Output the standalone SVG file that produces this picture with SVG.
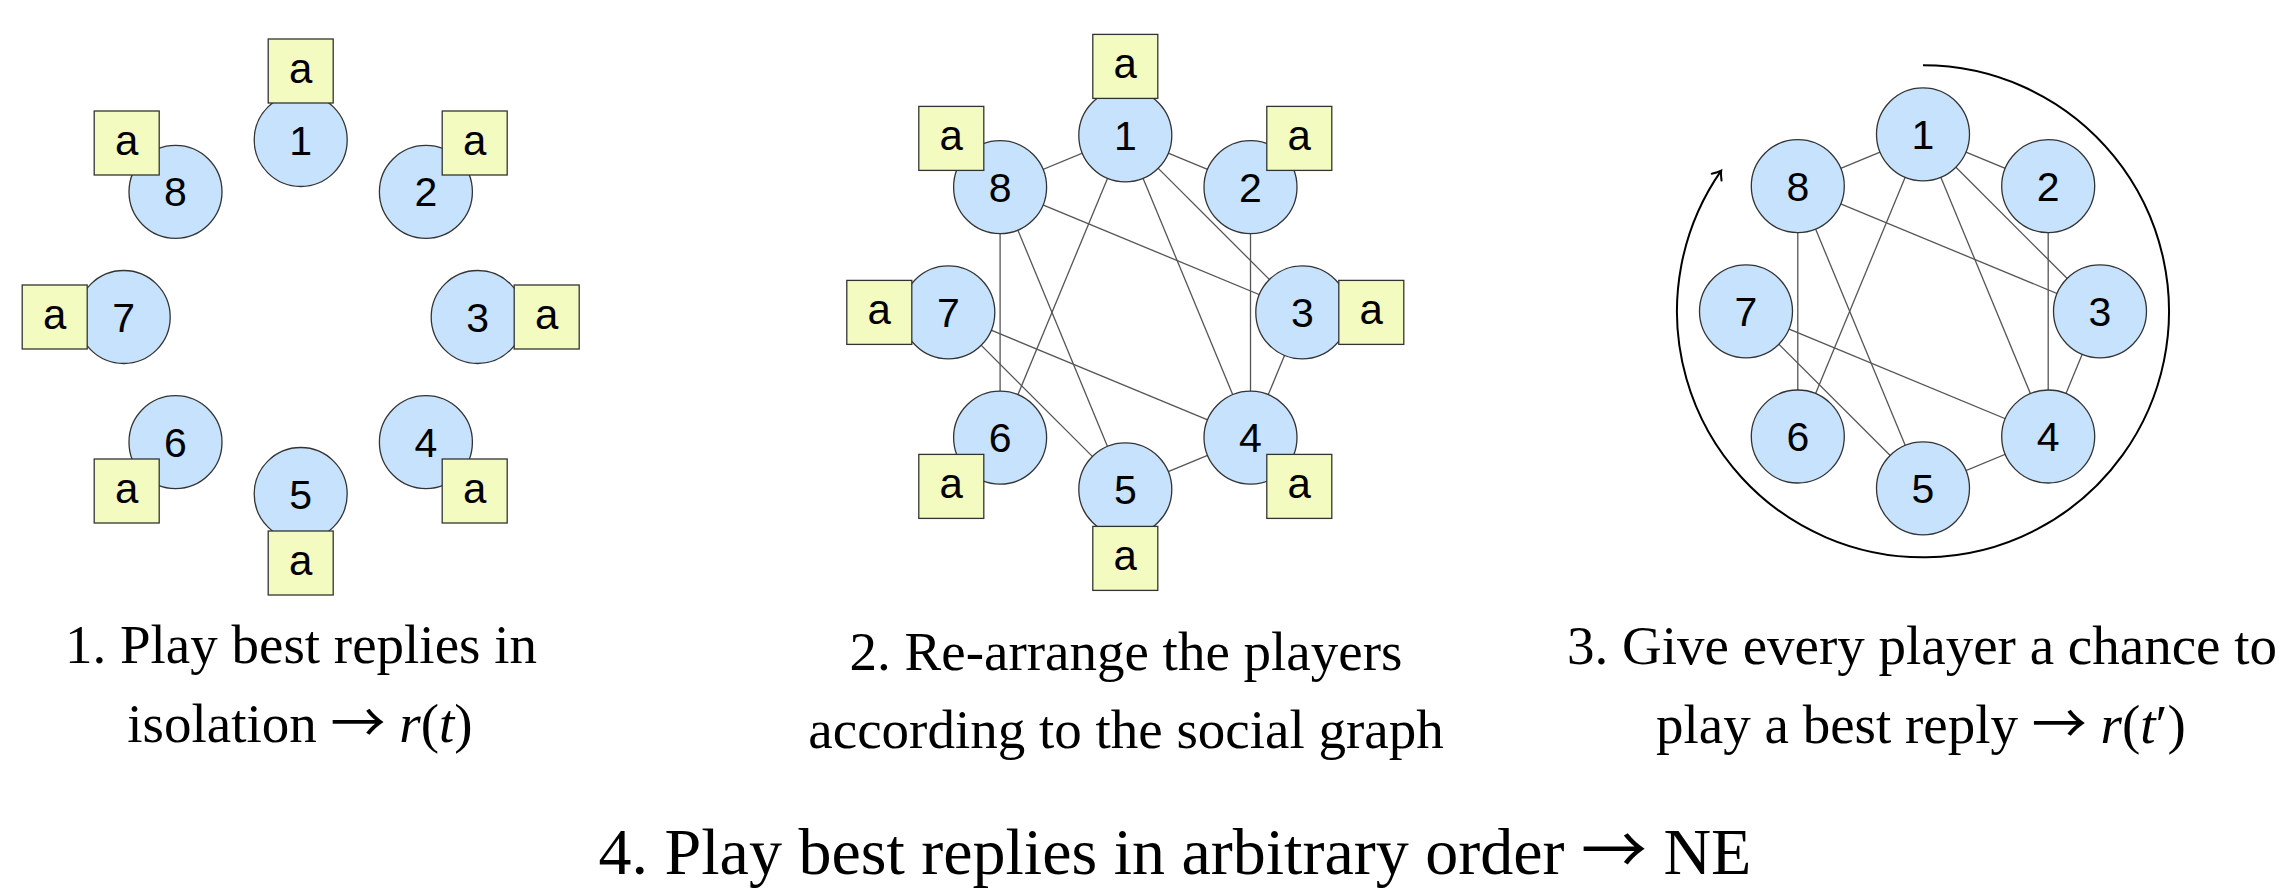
<svg xmlns="http://www.w3.org/2000/svg" width="2283" height="891" viewBox="0 0 2283 891">
<defs>
<style>
.nd{fill:#c7e2fd;stroke:#333;stroke-width:1.3}
.bx{fill:#f4fbc0;stroke:#333;stroke-width:1.3}
.nl{font-family:"Liberation Sans",Arial,sans-serif;font-size:41px;fill:#000;text-anchor:middle}
.bl{font-family:"Liberation Sans",Arial,sans-serif;font-size:42px;fill:#000;text-anchor:middle}
.ed line{stroke:#555;stroke-width:1.3}
.cap{font-family:"Liberation Serif","Times New Roman",serif;font-size:55px;fill:#000;text-anchor:middle}
.big{font-size:66px}
.it{font-style:italic}
.ar{font-family:"Noto Sans CJK SC","DejaVu Sans",sans-serif;font-style:normal}
</style>
<marker id="tip" markerUnits="userSpaceOnUse" markerWidth="20" markerHeight="20" refX="0" refY="0" orient="auto" overflow="visible">
<path d="M -8 -6 Q -3 -1.5 0 0 Q -3 1.5 -8 6" fill="none" stroke="#000" stroke-width="2" stroke-linecap="round"/>
</marker>
</defs>
<rect width="2283" height="891" fill="#fff"/>

<!-- Panel 1 -->
<g id="p1">
<g id="p1n1"><circle class="nd" cx="300.7" cy="140" r="46.5"/><text class="nl" x="300.7" y="154.5">1</text><rect class="bx" x="268.2" y="39" width="65" height="64"/><text class="bl" x="300.7" y="82.5">a</text></g>
<g id="p1n2"><circle class="nd" cx="425.9" cy="191.8" r="46.5"/><text class="nl" x="425.9" y="206.3">2</text><rect class="bx" x="442.2" y="111" width="65" height="64"/><text class="bl" x="474.7" y="154.5">a</text></g>
<g id="p1n3"><circle class="nd" cx="477.7" cy="317" r="46.5"/><text class="nl" x="477.7" y="331.5">3</text><rect class="bx" x="514.2" y="285" width="65" height="64"/><text class="bl" x="546.7" y="328.5">a</text></g>
<g id="p1n4"><circle class="nd" cx="425.9" cy="442.2" r="46.5"/><text class="nl" x="425.9" y="456.7">4</text><rect class="bx" x="442.2" y="459" width="65" height="64"/><text class="bl" x="474.7" y="502.5">a</text></g>
<g id="p1n5"><circle class="nd" cx="300.7" cy="494" r="46.5"/><text class="nl" x="300.7" y="508.5">5</text><rect class="bx" x="268.2" y="531" width="65" height="64"/><text class="bl" x="300.7" y="574.5">a</text></g>
<g id="p1n6"><circle class="nd" cx="175.5" cy="442.2" r="46.5"/><text class="nl" x="175.5" y="456.7">6</text><rect class="bx" x="94.2" y="459" width="65" height="64"/><text class="bl" x="126.7" y="502.5">a</text></g>
<g id="p1n7"><circle class="nd" cx="123.7" cy="317" r="46.5"/><text class="nl" x="123.7" y="331.5">7</text><rect class="bx" x="22.2" y="285" width="65" height="64"/><text class="bl" x="54.7" y="328.5">a</text></g>
<g id="p1n8"><circle class="nd" cx="175.5" cy="191.8" r="46.5"/><text class="nl" x="175.5" y="206.3">8</text><rect class="bx" x="94.2" y="111" width="65" height="64"/><text class="bl" x="126.7" y="154.5">a</text></g>
</g>

<!-- Panel 2 connectors -->
<g id="p2edges" class="ed">
<line x1="1125.3" y1="135.4" x2="1000.1" y2="187.2"/>
<line x1="1125.3" y1="135.4" x2="1250.5" y2="187.2"/>
<line x1="1125.3" y1="135.4" x2="1302.3" y2="312.4"/>
<line x1="1125.3" y1="135.4" x2="1250.5" y2="437.6"/>
<line x1="1125.3" y1="135.4" x2="1000.1" y2="437.6"/>
<line x1="1000.1" y1="187.2" x2="1302.3" y2="312.4"/>
<line x1="1000.1" y1="187.2" x2="1000.1" y2="437.6"/>
<line x1="1000.1" y1="187.2" x2="1125.3" y2="489.4"/>
<line x1="1250.5" y1="187.2" x2="1250.5" y2="437.6"/>
<line x1="1302.3" y1="312.4" x2="1250.5" y2="437.6"/>
<line x1="948.3" y1="312.4" x2="1250.5" y2="437.6"/>
<line x1="948.3" y1="312.4" x2="1125.3" y2="489.4"/>
<line x1="1125.3" y1="489.4" x2="1250.5" y2="437.6"/>
</g>
<g id="p2">
<g id="p2n1"><circle class="nd" cx="1125.3" cy="135.4" r="46.5"/><text class="nl" x="1125.3" y="149.9">1</text><rect class="bx" x="1092.8" y="34.4" width="65" height="64"/><text class="bl" x="1125.3" y="77.9">a</text></g>
<g id="p2n2"><circle class="nd" cx="1250.5" cy="187.2" r="46.5"/><text class="nl" x="1250.5" y="201.7">2</text><rect class="bx" x="1266.8" y="106.4" width="65" height="64"/><text class="bl" x="1299.3" y="149.9">a</text></g>
<g id="p2n3"><circle class="nd" cx="1302.3" cy="312.4" r="46.5"/><text class="nl" x="1302.3" y="326.9">3</text><rect class="bx" x="1338.8" y="280.4" width="65" height="64"/><text class="bl" x="1371.3" y="323.9">a</text></g>
<g id="p2n4"><circle class="nd" cx="1250.5" cy="437.6" r="46.5"/><text class="nl" x="1250.5" y="452.1">4</text><rect class="bx" x="1266.8" y="454.4" width="65" height="64"/><text class="bl" x="1299.3" y="497.9">a</text></g>
<g id="p2n5"><circle class="nd" cx="1125.3" cy="489.4" r="46.5"/><text class="nl" x="1125.3" y="503.9">5</text><rect class="bx" x="1092.8" y="526.4" width="65" height="64"/><text class="bl" x="1125.3" y="569.9">a</text></g>
<g id="p2n6"><circle class="nd" cx="1000.1" cy="437.6" r="46.5"/><text class="nl" x="1000.1" y="452.1">6</text><rect class="bx" x="918.8" y="454.4" width="65" height="64"/><text class="bl" x="951.3" y="497.9">a</text></g>
<g id="p2n7"><circle class="nd" cx="948.3" cy="312.4" r="46.5"/><text class="nl" x="948.3" y="326.9">7</text><rect class="bx" x="846.8" y="280.4" width="65" height="64"/><text class="bl" x="879.3" y="323.9">a</text></g>
<g id="p2n8"><circle class="nd" cx="1000.1" cy="187.2" r="46.5"/><text class="nl" x="1000.1" y="201.7">8</text><rect class="bx" x="918.8" y="106.4" width="65" height="64"/><text class="bl" x="951.3" y="149.9">a</text></g>
</g>

<!-- Panel 3 connectors -->
<g id="p3edges" class="ed">
<line x1="1923" y1="134.3" x2="1797.8" y2="186.1"/>
<line x1="1923" y1="134.3" x2="2048.2" y2="186.1"/>
<line x1="1923" y1="134.3" x2="2100" y2="311.3"/>
<line x1="1923" y1="134.3" x2="2048.2" y2="436.5"/>
<line x1="1923" y1="134.3" x2="1797.8" y2="436.5"/>
<line x1="1797.8" y1="186.1" x2="2100" y2="311.3"/>
<line x1="1797.8" y1="186.1" x2="1797.8" y2="436.5"/>
<line x1="1797.8" y1="186.1" x2="1923" y2="488.3"/>
<line x1="2048.2" y1="186.1" x2="2048.2" y2="436.5"/>
<line x1="2100" y1="311.3" x2="2048.2" y2="436.5"/>
<line x1="1746" y1="311.3" x2="2048.2" y2="436.5"/>
<line x1="1746" y1="311.3" x2="1923" y2="488.3"/>
<line x1="1923" y1="488.3" x2="2048.2" y2="436.5"/>
</g>
<g id="p3arc">
<path d="M 1923 65.3 A 246 246 0 1 1 1721.2 170.6" fill="none" stroke="#000" stroke-width="2" marker-end="url(#tip)"/>
</g>
<g id="p3">
<g id="p3n1"><circle class="nd" cx="1923" cy="134.3" r="46.5"/><text class="nl" x="1923" y="148.8">1</text></g>
<g id="p3n2"><circle class="nd" cx="2048.2" cy="186.1" r="46.5"/><text class="nl" x="2048.2" y="200.6">2</text></g>
<g id="p3n3"><circle class="nd" cx="2100" cy="311.3" r="46.5"/><text class="nl" x="2100" y="325.8">3</text></g>
<g id="p3n4"><circle class="nd" cx="2048.2" cy="436.5" r="46.5"/><text class="nl" x="2048.2" y="451">4</text></g>
<g id="p3n5"><circle class="nd" cx="1923" cy="488.3" r="46.5"/><text class="nl" x="1923" y="502.8">5</text></g>
<g id="p3n6"><circle class="nd" cx="1797.8" cy="436.5" r="46.5"/><text class="nl" x="1797.8" y="451">6</text></g>
<g id="p3n7"><circle class="nd" cx="1746" cy="311.3" r="46.5"/><text class="nl" x="1746" y="325.8">7</text></g>
<g id="p3n8"><circle class="nd" cx="1797.8" cy="186.1" r="46.5"/><text class="nl" x="1797.8" y="200.6">8</text></g>
</g>

<!-- Captions -->
<g id="captions">
<text class="cap" x="301" y="663">1. Play best replies in</text>
<text class="cap" x="300" y="742">isolation <tspan class="ar">→</tspan> <tspan class="it">r</tspan>(<tspan class="it">t</tspan>)</text>
<text class="cap" x="1126" y="670">2. Re-arrange the players</text>
<text class="cap" x="1126" y="748">according to the social graph</text>
<text class="cap" x="1922" y="664">3. Give every player a chance to</text>
<text class="cap" x="1921" y="743">play a best reply <tspan class="ar">→</tspan> <tspan class="it">r</tspan>(<tspan class="it">t</tspan>′)</text>
<text class="cap big" x="1175" y="874">4. Play best replies in arbitrary order <tspan class="ar">→</tspan> NE</text>
</g>
</svg>
